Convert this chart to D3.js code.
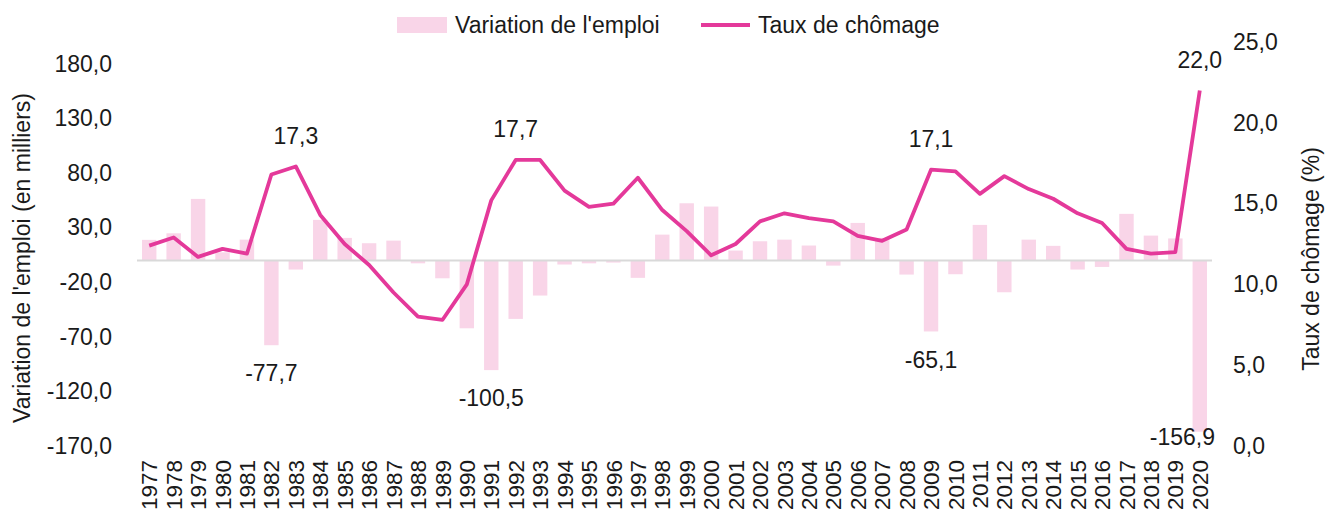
<!DOCTYPE html>
<html>
<head>
<meta charset="utf-8">
<script src="https://cdn.jsdelivr.net/npm/d3@7"></script>
<style>
  html, body { margin: 0; padding: 0; background: #ffffff; }
  svg { display: block; }
  text { font-family: "Liberation Sans", Arial, Helvetica, sans-serif; fill: #1a1a1a; }
</style>
</head>
<body>
<svg id="chart" width="1325" height="514"></svg>
<script>
// ---------- DATA ----------
const years = [1977,1978,1979,1980,1981,1982,1983,1984,1985,1986,1987,1988,1989,1990,1991,1992,1993,1994,1995,1996,1997,1998,1999,2000,2001,2002,2003,2004,2005,2006,2007,2008,2009,2010,2011,2012,2013,2014,2015,2016,2017,2018,2019,2020];
const employmentChange = [18.8,24.8,56.3,7.4,19.0,-77.7,-8.4,37.1,20.6,15.7,18.1,-2.7,-16.4,-62.2,-100.5,-53.6,-32.2,-3.8,-2.7,-2.0,-16.0,23.6,52.3,49.3,9.0,17.5,19.0,13.6,-4.8,34.3,20.6,-13.0,-65.1,-12.7,32.5,-29.2,19.0,13.3,-8.4,-6.0,42.6,22.7,20.1,-156.9];
const unemploymentRate = [12.4,12.9,11.7,12.2,11.9,16.8,17.3,14.3,12.5,11.2,9.5,8.0,7.8,10.0,15.2,17.7,17.7,15.8,14.8,15.0,16.6,14.6,13.3,11.8,12.5,13.9,14.4,14.1,13.9,13.0,12.7,13.4,17.1,17.0,15.6,16.7,15.9,15.3,14.4,13.8,12.2,11.9,12.0,22.0];
const leftTicks = [-170,-120,-70,-20,30,80,130,180];
const rightTicks = [0,5,10,15,20,25];
const barLabelYears = [1982,1991,2009,2020];
const lineLabelYears = [1983,1992,2009,2020];
const seriesNames = ["Variation de l'emploi","Taux de chômage"];
const leftTitle = "Variation de l'emploi (en milliers)";
const rightTitle = "Taux de chômage (%)";

// ---------- LAYOUT ----------
const W = 1325, H = 514;
const plot = { left: 137, right: 1212, top: 42, bottom: 446 };
const barColor = "#F9D5E8";
const lineColor = "#E4399A";
const zeroColor = "#D9D9D9";
const ff = "'Liberation Sans', Arial, sans-serif";

const fr = d3.formatLocale({decimal: ",", thousands: " ", grouping: [3], currency: ["", ""], minus: "-"});
const fmt = fr.format(".1f");

const svg = d3.select("#chart");

const x = d3.scaleBand().domain(years).range([plot.left, plot.right]).paddingInner(0.41).paddingOuter(0.205);
const xc = d3.scaleBand().domain(years).range([plot.left, plot.right]);
const yL = d3.scaleLinear().domain([-170, 200]).range([plot.bottom, plot.top]);
const yR = d3.scaleLinear().domain([0, 25]).range([plot.bottom, plot.top]);

const data = years.map((yr, i) => ({ year: yr, emp: employmentChange[i], rate: unemploymentRate[i] }));
const cx = d => xc(d.year) + xc.bandwidth() / 2;

// bars
svg.append("g").selectAll("rect").data(data).join("rect")
  .attr("x", d => cx(d) - x.bandwidth() / 2)
  .attr("width", x.bandwidth())
  .attr("y", d => yL(Math.max(0, d.emp)))
  .attr("height", d => Math.abs(yL(d.emp) - yL(0)))
  .attr("fill", barColor);

// zero line
svg.append("line")
  .attr("x1", plot.left).attr("x2", plot.right)
  .attr("y1", yL(0)).attr("y2", yL(0))
  .attr("stroke", zeroColor).attr("stroke-width", 2);

// line
const line = d3.line().x(cx).y(d => yR(d.rate));
svg.append("path").datum(data)
  .attr("d", line)
  .attr("fill", "none")
  .attr("stroke", lineColor)
  .attr("stroke-width", 3.8)
  .attr("stroke-linejoin", "round");

// left axis
const axL = svg.append("g").attr("transform", `translate(${plot.left},0)`)
  .call(d3.axisLeft(yL).tickValues(leftTicks).tickSize(0).tickPadding(25).tickFormat(fmt));
axL.select(".domain").remove();
axL.selectAll("text").attr("font-size", 23).attr("fill", "#1a1a1a").style("font-family", ff);

// right axis
const axR = svg.append("g").attr("transform", `translate(${plot.right},0)`)
  .call(d3.axisRight(yR).tickValues(rightTicks).tickSize(0).tickPadding(21).tickFormat(fmt));
axR.select(".domain").remove();
axR.selectAll("text").attr("font-size", 23).attr("fill", "#1a1a1a").style("font-family", ff);

// x axis labels (rotated)
const axX = svg.append("g").attr("transform", `translate(0,${plot.bottom})`)
  .call(d3.axisBottom(xc).tickSize(0).tickFormat(d => String(d)));
axX.select(".domain").remove();
axX.selectAll("text")
  .attr("font-size", 22.5)
  .attr("fill", "#1a1a1a")
  .style("font-family", ff)
  .attr("text-anchor", "end")
  .attr("transform", "rotate(-90)")
  .attr("x", -14)
  .attr("y", 0)
  .attr("dy", "0.36em");

// bar data labels
svg.append("g").selectAll("text").data(data.filter(d => barLabelYears.includes(d.year))).join("text")
  .attr("font-size", 23)
  .attr("text-anchor", d => (cx(d) + 33 > plot.right) ? "end" : "middle")
  .attr("x", d => (cx(d) + 33 > plot.right) ? plot.right + 3 : cx(d))
  .attr("y", d => Math.min(yL(d.emp) + 28, plot.bottom - 9))
  .attr("dy", "0.36em")
  .text(d => fmt(d.emp));

// line data labels
svg.append("g").selectAll("text").data(data.filter(d => lineLabelYears.includes(d.year))).join("text")
  .attr("font-size", 23)
  .attr("text-anchor", "middle")
  .attr("x", cx)
  .attr("y", d => yR(d.rate) - 31)
  .attr("dy", "0.36em")
  .text(d => fmt(d.rate));

// axis titles
svg.append("text")
  .attr("font-size", 23)
  .attr("text-anchor", "middle")
  .attr("transform", `translate(22,258) rotate(-90)`)
  .attr("dy", "0.36em")
  .text(leftTitle);
svg.append("text")
  .attr("font-size", 23)
  .attr("text-anchor", "middle")
  .attr("transform", `translate(1311,259) rotate(-90)`)
  .attr("dy", "0.36em")
  .text(rightTitle);

// legend
const lg = svg.append("g");
lg.append("rect").attr("x", 397).attr("y", 17).attr("width", 50).attr("height", 16).attr("fill", barColor);
lg.append("text").attr("x", 455).attr("y", 25).attr("dy", "0.36em").attr("font-size", 23).text(seriesNames[0]);
lg.append("line").attr("x1", 701).attr("x2", 750).attr("y1", 25).attr("y2", 25).attr("stroke", lineColor).attr("stroke-width", 3.8);
lg.append("text").attr("x", 758).attr("y", 25).attr("dy", "0.36em").attr("font-size", 23).text(seriesNames[1]);
</script>
</body>
</html>
